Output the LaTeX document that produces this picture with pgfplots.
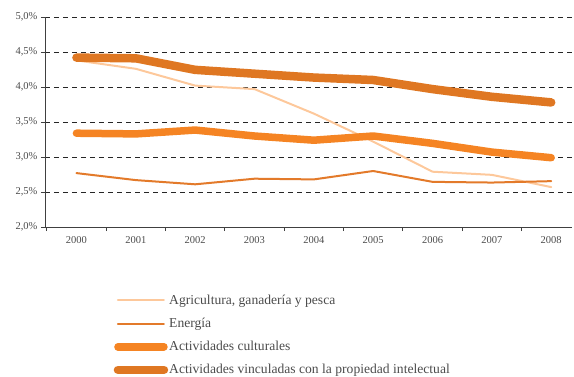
\documentclass[border=0pt]{standalone}
\usepackage{pgfplots}
\pgfplotsset{compat=1.18}
\usepackage{fontspec}
\setmainfont{Liberation Serif}
\definecolor{agri}{RGB}{253,200,155}
\definecolor{ener}{RGB}{227,122,42}
\definecolor{cult}{RGB}{245,132,35}
\definecolor{prop}{RGB}{223,119,34}
\definecolor{txt}{RGB}{75,75,75}
\begin{document}
\begin{tikzpicture}
\useasboundingbox (0,0) rectangle (574pt,376pt);
\begin{axis}[
  at={(45pt,149pt)}, anchor=south west,
  scale only axis, width=527pt, height=210pt,
  xmin=-0.53, xmax=8.35, ymin=2.0, ymax=5.0,
  axis x line*=bottom, axis y line*=left,
  axis line style={draw=black!75, line width=0.8pt},
  xtick={-0.5,0.5,...,7.5}, xticklabels={},
  extra x ticks={0,1,2,3,4,5,6,7,8},
  extra x tick labels={2000,2001,2002,2003,2004,2005,2006,2007,2008},
  extra x tick style={major tick length=0pt},
  ytick={2.0,2.5,3.0,3.5,4.0,4.5,5.0},
  yticklabels={{2,0\%},{2,5\%},{3,0\%},{3,5\%},{4,0\%},{4,5\%},{5,0\%}},
  tick align=outside, major tick length=4pt,
  tick style={draw=black!75, line width=0.8pt},
  ymajorgrids, major grid style={dash pattern=on 5pt off 4pt, black!85, line width=0.6pt},
  x tick label style={font=\fontsize{10.5}{11}\selectfont, text=txt, yshift=-6pt},
  y tick label style={font=\fontsize{10.5}{11}\selectfont, text=txt},
  legend style={draw=none, fill=none, at={(0.1300,-0.318)}, anchor=north west,
    font=\fontsize{13.6}{14}\selectfont, text=txt, row sep=10.2pt, inner sep=0pt,
    nodes={inner sep=1pt, anchor=west}},
  legend cell align=left,
  legend image code/.code={\draw[#1, line cap=round] (0pt,0pt) -- (46pt,0pt);},
  every axis plot/.append style={line join=round, line cap=round},
]
\addplot[agri, line width=2pt] coordinates {(0,4.38) (1,4.26) (2,4.02) (3,3.97) (4,3.62) (5,3.22) (6,2.79) (7,2.745) (8,2.57)};
\addlegendentry{Agricultura, ganadería y pesca}
\addplot[ener, line width=2pt] coordinates {(0,2.77) (1,2.67) (2,2.61) (3,2.69) (4,2.68) (5,2.80) (6,2.645) (7,2.635) (8,2.655)};
\addlegendentry{Energía}
\addplot[cult, line width=7.5pt] coordinates {(0,3.34) (1,3.33) (2,3.385) (3,3.30) (4,3.24) (5,3.30) (6,3.195) (7,3.07) (8,2.99)};
\addlegendentry{Actividades culturales}
\addplot[prop, line width=8.5pt] coordinates {(0,4.42) (1,4.41) (2,4.245) (3,4.19) (4,4.135) (5,4.10) (6,3.97) (7,3.86) (8,3.78)};
\addlegendentry{Actividades vinculadas con la propiedad intelectual}
\end{axis}
\end{tikzpicture}
\end{document}
